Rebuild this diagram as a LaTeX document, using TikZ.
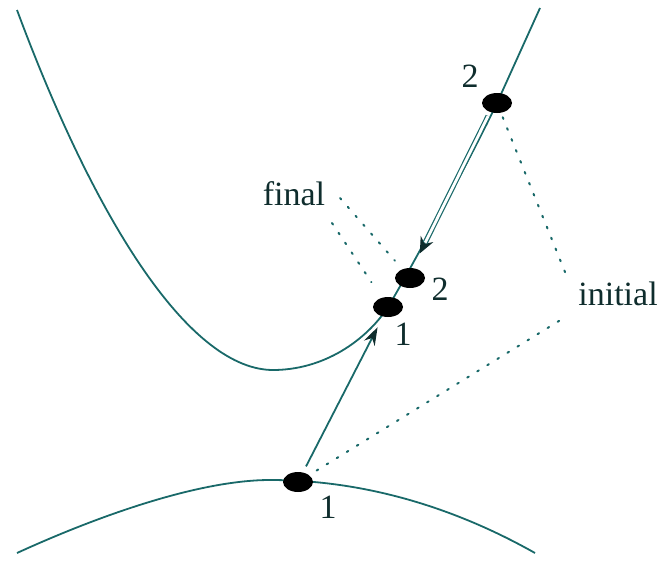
\documentclass[tikz,border=0pt]{standalone}
\usepackage{fontspec}
\setmainfont{Liberation Serif}
\usetikzlibrary{arrows.meta,shapes.geometric}
\definecolor{curvecol}{RGB}{25,105,105}
\definecolor{labelcol}{RGB}{15,45,45}

\begin{document}
\begin{tikzpicture}[x=0.5pt,y=-0.5pt,line width=0.9pt,curvecol,
  state/.style={ellipse,fill=black,draw=none,inner sep=0pt,minimum width=15pt,minimum height=10pt},
  lbl/.style={text=labelcol,font=\fontsize{17}{20}\selectfont,anchor=base,inner sep=0pt},
  guide/.style={dash pattern=on 0.9pt off 5pt,line cap=round,line width=1pt}]
  \useasboundingbox (0,0) rectangle (658,562);
  % curva superior
  \draw (17,10) .. controls (95,220) and (190,372) .. (275,370)
    .. controls (330,369) and (370,335) .. (388,307)
    .. controls (400,288) and (470,160) .. (497,103) -- (540,8);
  % curva inferior
  \draw (17,553) .. controls (100,515) and (200,480) .. (270,480)
    .. controls (360,480) and (450,505) .. (535,553);
  % estados
  \node[state] (top2) at (497,103) {};
  \node[state] (up2) at (410,278) {};
  \node[state] (up1) at (388,307) {};
  \node[state] (lo1) at (298,482) {};
  % etiquetas
  \node[lbl] (ltop2) at (470,87) {2};
  \node[lbl] (lup2) at (440,300) {2};
  \node[lbl] (lup1) at (403,345) {1};
  \node[lbl] (llo1) at (328,518) {1};
  \node[lbl] (final) at (294,205) {final};
  \node[lbl] (initial) at (618,305) {initial};
  \coordinate (fa) at (340,198);
  \coordinate (fb) at (332,223);
  \coordinate (ia) at (567,277);
  \coordinate (ib) at (567,316);
  % transiciones
  \draw[-{Stealth[length=9pt,width=6pt,color=labelcol]},shorten <=3pt,shorten >=5.6pt] (lo1) -- (up1);
  \begin{scope}[transform canvas={xshift=-1.2pt}]
    \draw[-{Stealth[length=8pt,width=7pt,color=labelcol]},line width=0.6pt,shorten <=1.5pt,shorten >=8pt] (top2) -- (up2);
    \draw[double,double distance=1.4pt,line width=0.6pt,shorten <=1.5pt,shorten >=14pt] (top2) -- (up2);
  \end{scope}
  % lineas guia
  \draw[guide,shorten >=5.3pt] (fa) -- (up2);
  \draw[guide,shorten >=9pt] (fb) -- (up1);
  \draw[guide,shorten <=2pt] (top2) -- (ia);
  \draw[guide,shorten <=4pt] (lo1) -- (ib);
\end{tikzpicture}
\end{document}
